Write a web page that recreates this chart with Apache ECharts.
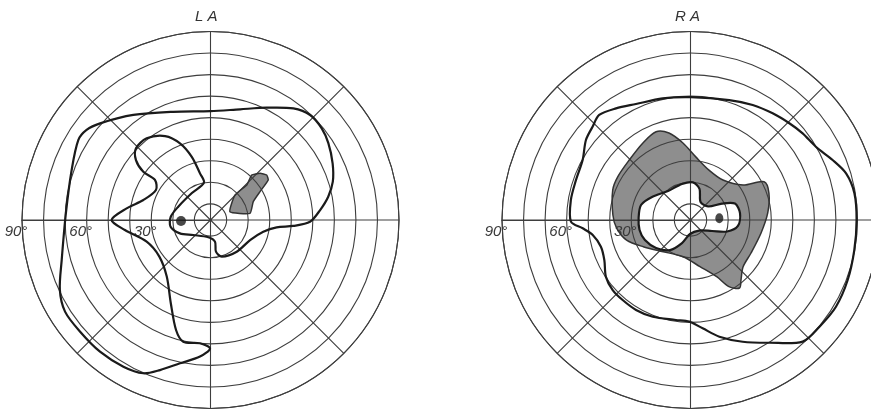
<!DOCTYPE html>
<html><head><meta charset="utf-8">
<script src="https://cdn.jsdelivr.net/npm/echarts@6/dist/echarts.min.js"></script>
<style>html,body{margin:0;padding:0;background:#fff}#c{width:871px;height:410px}</style>
</head><body><div id="c"></div>
<script>
// Visual field charts: points are [eccentricity (deg), meridian (deg; 0 = left, 90 = up, clockwise)]
const panelTitles = ['L A', 'R A'];
const ringLabelValues = [30, 60, 90];

const laField = [[53,90],[55.7,105],[60.8,116.6],[67,126.6],[69.7,133.5],[69.4,140.5],[67.8,146.9],[65,155.1],[62,162.6],[58.2,168.8],[53.6,174.8],[48.7,181],[41,184.1],[33.4,186.3],[27.6,192.5],[23.1,206.9],[21.6,230.4],[20.3,253],[17.4,260.2],[12.8,258.3],[10.6,277.2],[13.1,318.9],[18,336.4],[21.3,350.4],[21,4.7],[18.7,22.4],[17.7,54.8],[20.1,80.1],[24.7,77.3],[33.1,73.5],[40.8,68.3],[46.8,61.6],[50.6,52],[50.5,43.9],[46.9,38.8],[40.9,35.7],[34.3,35.8],[31.4,28.8],[35,16.6],[41.8,7.9],[48.4,0],[42.5,353.3],[33.8,341.2],[31.7,324.4],[35.7,307.7],[45.3,295.5],[56,287.4],[60.4,282.6],[59.9,274.9],[62.1,270.2],[66.1,274.4],[70.5,282],[76,288.6],[80.2,293.7],[81.7,300.7],[82.3,310],[82.2,319.4],[82.3,327.8],[79.6,335.1],[74,345],[69.7,2.7],[71,19.8],[74.2,31.2],[73.6,36],[70.6,41.2],[63,53.7],[55.6,71]];
const laScotoma = [[12.3,156.9],[18.7,134.4],[25.9,136],[30.8,132.5],[34.1,136.7],[35.9,141.3],[35.1,145.3],[29,150.2],[24.1,156.8],[21.1,170.4]];
const laBlindSpot = [[16.2,358]];

const raField = [[59.5,90.2],[61,107.9],[63.2,118.4],[65,127.6],[66.7,135.6],[68.3,142.3],[69.9,149.7],[74.1,157.1],[77.9,163.3],[79.6,170.7],[79.6,180],[79.8,190.4],[80.6,200.9],[81.1,210.8],[80.2,219.6],[79.3,227.3],[70.2,237.3],[64,246.8],[58.3,256.1],[53.1,263.6],[49.7,270.7],[49.4,278.3],[50.7,291.3],[51.3,301.2],[51.2,310.3],[51.1,318],[49.8,326.1],[46.6,335.1],[45.9,343.4],[48.4,351.3],[52.7,355.6],[58,359.2],[58.8,9.5],[58.8,19.3],[59.8,29.1],[63.6,37.4],[65.3,43.7],[67.1,49],[64.8,56.3],[62,64.8],[60.4,77.1]];
const raScotoma = [[46.5,68.7],[44.1,76.1],[38.4,84.4],[31.8,95],[27.2,110.3],[26.4,129.1],[31.8,146.3],[41,152.5],[41,161],[38.5,174.8],[35.8,190.4],[34.5,208.6],[35.2,221.8],[38.9,229.9],[41.4,234.2],[38.2,240],[31.5,245.2],[24.6,258.5],[19.9,281.1],[21.9,310.6],[27.7,330.5],[33.6,342.6],[37,353.8],[38.6,3.7],[41.2,21.1],[41.8,30.7],[42.3,44.4],[44.5,58.1]];
const raSpared = [[26.6,2.2],[26.5,16.9],[23.3,30.9],[19.5,52.2],[19.7,76.7],[20,93.8],[17.5,106.2],[12.1,119.1],[12.8,142.4],[19,152.4],[24.5,159.7],[25.7,172],[24.7,187.2],[20.3,197.5],[13.7,207.1],[8.8,231],[9,272],[13.9,290.3],[19.4,304.3],[23.1,320.9],[25.6,336.3],[26.6,348.9]];
const raBlindSpot = [[15.9,176.6]];

const GRID = '#3e3e3e';
const INK = '#1a1a1a';

function shape(polarIndex, pts, o) {
  return {
    type: 'custom', coordinateSystem: 'polar', polarIndex: polarIndex,
    z: o.z, silent: true, data: pts,
    renderItem: function (params, api) {
      if (params.dataIndex !== 0) return null;
      const points = pts.map(function (p) { return api.coord(p); });
      return {
        type: 'polygon',
        shape: { points: points, smooth: o.smooth == null ? 0.3 : o.smooth },
        style: { fill: o.fill || 'none', stroke: o.stroke || 'none', lineWidth: o.lw || 0 }
      };
    }
  };
}

function angleAxis(i) {
  return {
    polarIndex: i, type: 'value', min: 0, max: 360, interval: 45,
    startAngle: 180, clockwise: true,
    axisLine: { show: true, lineStyle: { color: GRID, width: 1.1 } },
    axisTick: { show: false }, axisLabel: { show: false },
    splitLine: { show: true, lineStyle: { color: GRID, width: 1.1 } }
  };
}
function radiusAxis(i) {
  return {
    polarIndex: i, type: 'value', min: 2.5, max: 90, splitNumber: 9,
    axisLine: { show: true, lineStyle: { color: GRID, width: 1.1 } },
    axisTick: { show: false },
    axisLabel: {
      show: true, margin: 4, fontSize: 15, fontStyle: 'italic', color: '#3a3a3a',
      fontFamily: 'Liberation Sans', padding: [0, 12, 0, 0],
      showMinLabel: true, showMaxLabel: true,
      formatter: function (v) { return ringLabelValues.indexOf(v) >= 0 ? v + '°' : ''; }
    },
    splitLine: { show: true, lineStyle: { color: GRID, width: 1.1 } }
  };
}

const titleStyle = { fontSize: 15, fontStyle: 'italic', fontWeight: 'normal', color: '#333', fontFamily: 'Liberation Sans' };
const chart = echarts.init(document.getElementById('c'), null, { renderer: 'canvas' });
chart.setOption({
  animation: false,
  backgroundColor: '#fff',
  title: [
    { text: panelTitles[0], left: 190, top: 4, textStyle: titleStyle },
    { text: panelTitles[1], left: 670, top: 4, textStyle: titleStyle }
  ],
  polar: [
    { center: [210.5, 220], radius: 188.5 },
    { center: [690.5, 220], radius: 188.5 }
  ],
  angleAxis: [angleAxis(0), angleAxis(1)],
  radiusAxis: [radiusAxis(0), radiusAxis(1)],
  series: [
    shape(0, laScotoma, { z: -2, fill: '#8e8e8e', smooth: 0.15 }),
    shape(0, laScotoma, { z: 3, stroke: '#333', lw: 1.5, smooth: 0.15 }),
    shape(0, laField, { z: 3, stroke: INK, lw: 2.2, smooth: 0.3 }),
    { type: 'scatter', coordinateSystem: 'polar', polarIndex: 0, data: laBlindSpot, symbolSize: 10, itemStyle: { color: INK }, z: 4, silent: true },

    shape(1, raScotoma, { z: -2, fill: '#8e8e8e', smooth: 0.3 }),
    shape(1, raSpared, { z: -1, fill: '#ffffff', smooth: 0.3 }),
    shape(1, raScotoma, { z: 3, stroke: '#333', lw: 1.5, smooth: 0.3 }),
    shape(1, raSpared, { z: 3, stroke: INK, lw: 2.2, smooth: 0.3 }),
    shape(1, raField, { z: 3, stroke: INK, lw: 2.2, smooth: 0.3 }),
    { type: 'scatter', coordinateSystem: 'polar', polarIndex: 1, data: raBlindSpot, symbolSize: [8, 10], itemStyle: { color: INK }, z: 4, silent: true }
  ]
});
</script>
</body></html>
